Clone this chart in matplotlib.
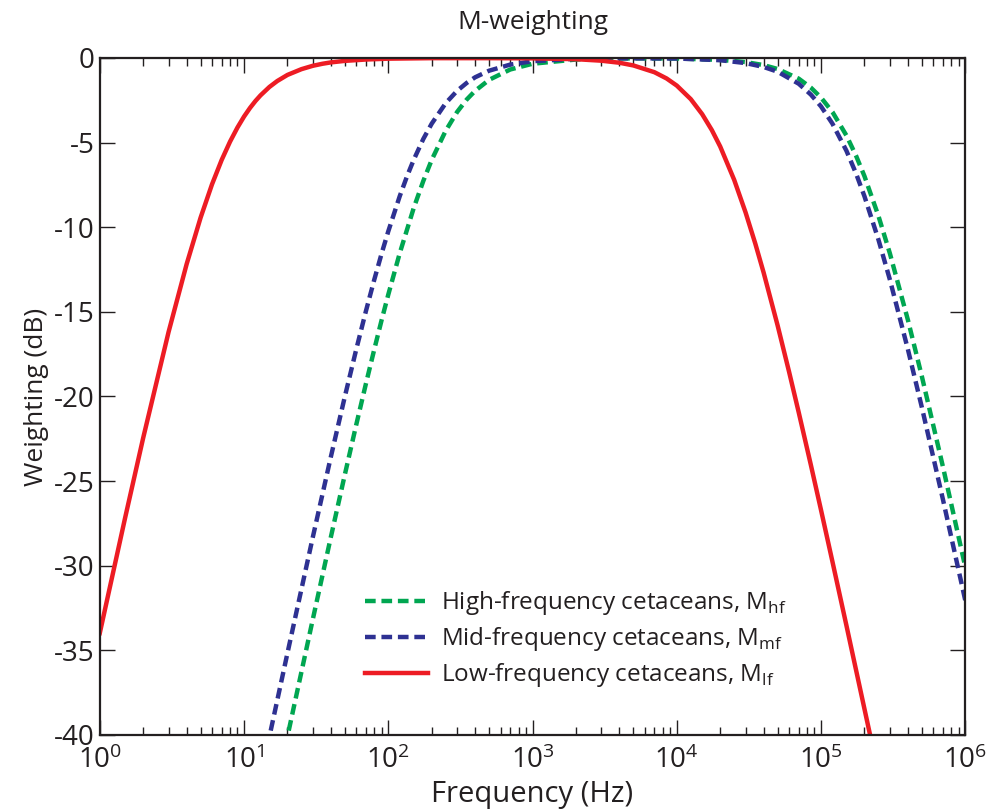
import matplotlib.pyplot as plt
import matplotlib.ticker as ticker
import numpy as np

plt.rcParams['font.family'] = ['Open Sans', 'DejaVu Sans']

# values (Hz, dB)
freq_lf = [1, 1.5, 2, 3, 4, 5, 6, 7, 8, 9, 10, 11, 12, 13, 15, 17, 20, 25, 30, 35, 40, 50, 70,
           100, 200, 500, 1000, 2000, 3000, 4000, 5000, 7000, 8500, 10000, 12500, 15000, 17500,
           20000, 25000, 30000, 35000, 40000, 50000, 60000, 70000, 85000, 100000, 120000,
           150000, 220000]
db_lf = [-33.98, -27.15, -22.44, -16.18, -12.18, -9.43, -7.46, -6.02, -4.94, -4.11, -3.46, -2.95,
         -2.54, -2.21, -1.71, -1.36, -1.00, -0.66, -0.46, -0.34, -0.26, -0.17, -0.09, -0.04,
         -0.01, -0.01, -0.02, -0.07, -0.16, -0.28, -0.44, -0.84, -1.21, -1.63, -2.43, -3.32,
         -4.26, -5.23, -7.20, -9.13, -10.96, -12.68, -15.80, -18.53, -20.93, -24.04, -26.71,
         -29.76, -33.53, -40.09]

freq_mf = [10, 15, 20, 30, 40, 50, 60, 70, 80, 90, 100, 120, 135, 150, 175, 200, 250, 300, 350,
           400, 500, 700, 1000, 2000, 3000, 5000, 10000, 20000, 30000, 40000, 50000, 70000,
           85000, 100000, 120000, 150000, 175000, 200000, 250000, 300000, 400000, 500000,
           700000, 1000000]
db_mf = [-47.08, -40.09, -35.16, -28.30, -23.56, -20.00, -17.21, -14.95, -13.09, -11.54, -10.24,
         -8.17, -6.98, -6.02, -4.78, -3.88, -2.67, -1.94, -1.47, -1.14, -0.75, -0.39, -0.19,
         -0.05, -0.02, -0.02, -0.03, -0.13, -0.30, -0.53, -0.81, -1.52, -2.16, -2.86, -3.88,
         -5.48, -6.83, -8.17, -10.73, -13.09, -17.21, -20.64, -26.08, -32.05]

freq_hf = [15, 20, 30, 40, 50, 60, 70, 80, 90, 100, 120, 150, 175, 200, 250, 300, 350, 400, 500,
           700, 1000, 2000, 3000, 5000, 10000, 20000, 30000, 40000, 50000, 70000, 85000, 100000,
           120000, 150000, 175000, 200000, 250000, 300000, 400000, 500000, 700000, 1000000]
db_hf = [-45.05, -40.09, -33.15, -28.30, -24.61, -21.66, -19.24, -17.21, -15.47, -13.98, -11.54,
         -8.87, -7.26, -6.02, -4.30, -3.19, -2.45, -1.94, -1.29, -0.68, -0.34, -0.09, -0.04,
         -0.02, -0.03, -0.11, -0.24, -0.42, -0.65, -1.22, -1.75, -2.34, -3.19, -4.58, -5.78,
         -6.98, -9.33, -11.54, -15.47, -18.81, -24.15, -30.07]

labels = [r'High-frequency cetaceans, M$_{\mathregular{hf}}$',
          r'Mid-frequency cetaceans, M$_{\mathregular{mf}}$',
          r'Low-frequency cetaceans, M$_{\mathregular{lf}}$']

fig = plt.figure(figsize=(9.88, 8.10), dpi=100)
ax = fig.add_axes([0.101, 0.0926, 0.876, 0.8358])

ax.plot(freq_hf, db_hf, color='#00a651', lw=3.2, dashes=(2.4, 1.3), label=labels[0])
ax.plot(freq_mf, db_mf, color='#2e3192', lw=3.2, dashes=(2.4, 1.3), label=labels[1])
ax.plot(freq_lf, db_lf, color='#ed1c24', lw=3.2, label=labels[2])

ax.set_xscale('log')
ax.set_xlim(1, 1e6)
ax.set_ylim(-40, 0)
ax.xaxis.set_minor_formatter(ticker.NullFormatter())
ax.set_yticks(np.arange(-40, 1, 5))
ax.set_yticklabels([str(v) for v in range(-40, 1, 5)])

ax.tick_params(which='both', direction='in', top=True, right=True, colors='#231f20',
               labelsize=20)
ax.tick_params(which='major', length=11, width=1)
ax.tick_params(which='minor', length=6, width=1)
ax.tick_params(axis='x', pad=8)
for s in ax.spines.values():
    s.set_linewidth(1.6)
    s.set_color('#231f20')

ax.set_title('M-weighting', fontsize=19, pad=21, color='#231f20')
ax.set_xlabel('Frequency (Hz)', fontsize=21, color='#231f20', labelpad=4)
ax.set_ylabel('Weighting (dB)', fontsize=19, color='#231f20', labelpad=4)

leg = ax.legend(loc='lower center', bbox_to_anchor=(0.55, 0.035), frameon=False,
                fontsize=17.5, handlelength=2.6, handletextpad=0.5, labelspacing=0.33)
for t in leg.get_texts():
    t.set_color('#231f20')

plt.savefig('out.png', dpi=100)
